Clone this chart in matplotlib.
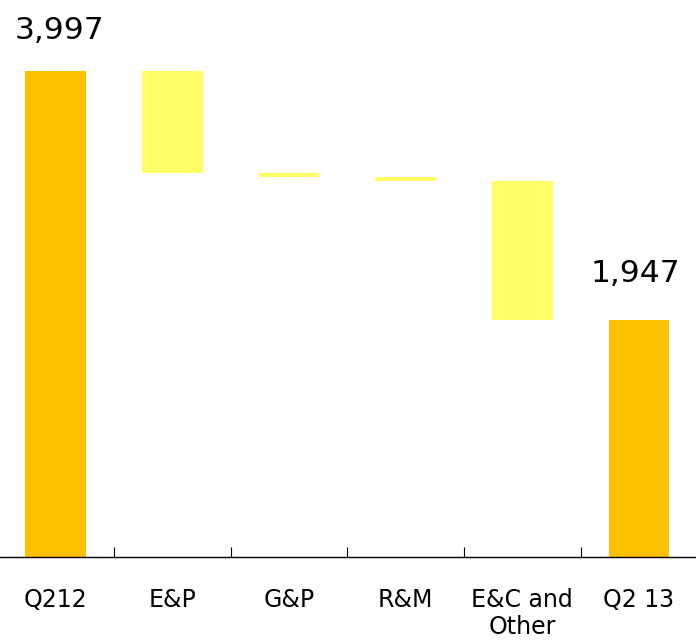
import numpy as np
import matplotlib
matplotlib.use('Agg')
import matplotlib.pyplot as plt

categories = ['Q212', 'E&P', 'G&P', 'R&M', 'E&C and\nOther', 'Q2 13']
start_total = 3997
changes = [-835, -37, -33, -1145]
end_total = 1947

total_color = '#FFC000'
change_color = '#FFFF66'

# floating bars for the changes
levels = start_total + np.cumsum([0] + changes)
heights = [start_total] + [abs(c) for c in changes] + [end_total]
bottoms = [0] + [min(levels[i], levels[i + 1]) for i in range(len(changes))] + [0]
colors = [total_color] + [change_color] * len(changes) + [total_color]

fig = plt.figure(figsize=(6.96, 6.4), dpi=100)
ax = fig.add_axes([0, 83 / 640, 1, 557 / 640])

x = np.arange(len(categories))
ax.bar(x, heights, bottom=bottoms, width=0.52, color=colors, edgecolor='none')

label_offsets = {0: (2.5, 18.5), len(categories) - 1: (-2.5, 23.5)}
for i, off in label_offsets.items():
    ax.annotate(f'{heights[i]:,}', (x[i], heights[i]), xytext=off,
                textcoords='offset points', ha='center', va='bottom', fontsize=22.5)

ax.set_xlim(-0.476, 5.49)
ax.set_ylim(0, 4581)

for s in ['top', 'right', 'left']:
    ax.spines[s].set_visible(False)
ax.spines['bottom'].set_linewidth(1.0)
ax.set_yticks([])

ax.set_xticks(x)
ax.set_xticklabels(categories, fontsize=17, linespacing=1.18)
ax.tick_params(axis='x', which='major', length=0, pad=22)
ax.set_xticks(x[:-1] + 0.5, minor=True)
ax.tick_params(axis='x', which='minor', direction='in', length=7, width=0.8)

fig.savefig('out.png', dpi=100)
